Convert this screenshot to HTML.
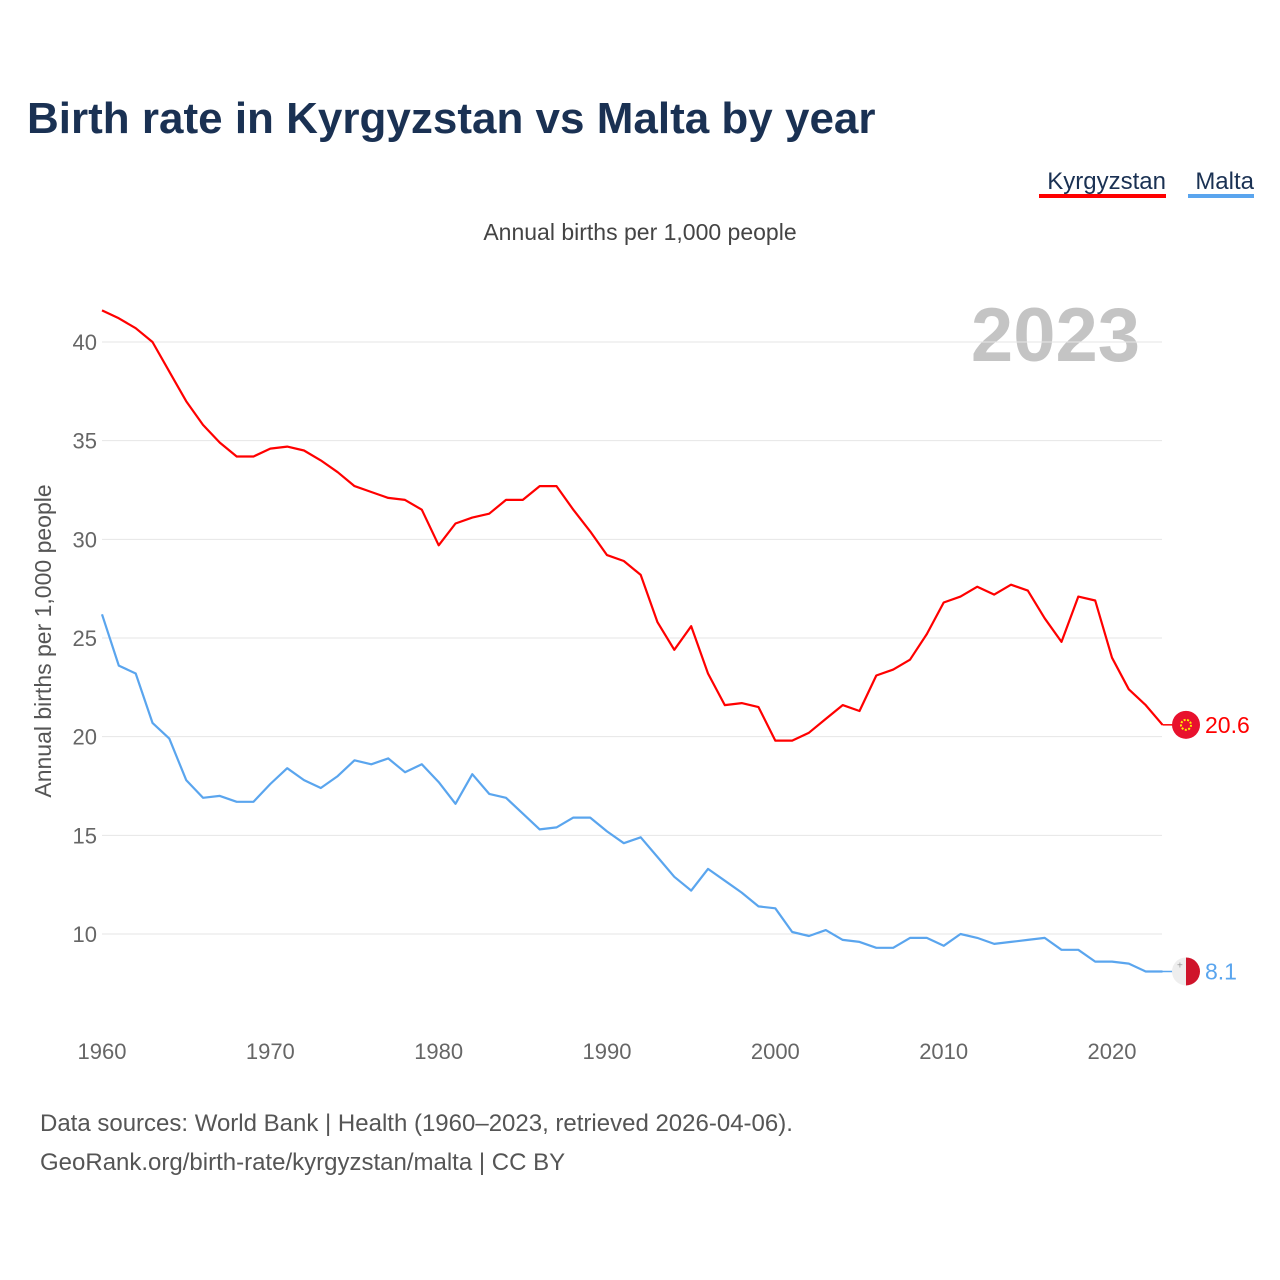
<!DOCTYPE html>
<html><head><meta charset="utf-8">
<style>
body{margin:0;background:#fff;width:1280px;height:1280px;overflow:hidden;font-family:"Liberation Sans",sans-serif;}
svg{display:block}
</style></head>
<body>
<svg id="chart" width="1280" height="1280">
<text x="27" y="133" font-size="44" font-weight="bold" fill="#1a3153">Birth rate in Kyrgyzstan vs Malta by year</text>
<g>
<text x="1166" y="189" font-size="24" fill="#1a3153" text-anchor="end">Kyrgyzstan</text>
<rect x="1039" y="194" width="127" height="4" fill="#ff0000"/>
</g>
<g>
<text x="1254" y="189" font-size="24" fill="#1a3153" text-anchor="end">Malta</text>
<rect x="1188" y="194" width="66" height="4" fill="#5aa5ee"/>
</g>
<text x="640" y="240" font-size="23" fill="#444" text-anchor="middle">Annual births per 1,000 people</text>
<text x="1140" y="361" font-size="76" font-weight="bold" fill="#c4c4c4" text-anchor="end">2023</text>
<text transform="translate(51,641) rotate(-90)" font-size="23" fill="#555" text-anchor="middle">Annual births per 1,000 people</text>
<g id="grid"></g><g id="series"></g>
<text x="40" y="1131" font-size="24" fill="#555">Data sources: World Bank | Health (1960–2023, retrieved 2026-04-06).</text>
<text x="40" y="1170" font-size="24" fill="#555">GeoRank.org/birth-rate/kyrgyzstan/malta | CC BY</text>
</svg>
<script>
const years=[];for(let y=1960;y<=2023;y++)years.push(y);
const kyrgyzstan=[41.6,41.2,40.7,40.0,38.5,37.0,35.8,34.9,34.2,34.2,34.6,34.7,34.5,34.0,33.4,32.7,32.4,32.1,32.0,31.5,29.7,30.8,31.1,31.3,32.0,32.0,32.7,32.7,31.5,30.4,29.2,28.9,28.2,25.8,24.4,25.6,23.2,21.6,21.7,21.5,19.8,19.8,20.2,20.9,21.6,21.3,23.1,23.4,23.9,25.2,26.8,27.1,27.6,27.2,27.7,27.4,26.0,24.8,27.1,26.9,24.0,22.4,21.6,20.6];
const malta=[26.2,23.6,23.2,20.7,19.9,17.8,16.9,17.0,16.7,16.7,17.6,18.4,17.8,17.4,18.0,18.8,18.6,18.9,18.2,18.6,17.7,16.6,18.1,17.1,16.9,16.1,15.3,15.4,15.9,15.9,15.2,14.6,14.9,13.9,12.9,12.2,13.3,12.7,12.1,11.4,11.3,10.1,9.9,10.2,9.7,9.6,9.3,9.3,9.8,9.8,9.4,10.0,9.8,9.5,9.6,9.7,9.8,9.2,9.2,8.6,8.6,8.5,8.1,8.1];
const yTicks=[10,15,20,25,30,35,40];
const xTicks=[1960,1970,1980,1990,2000,2010,2020];
const NS="http://www.w3.org/2000/svg";
const xS=v=>102+(v-1960)*(1010/60);
const yS=v=>934-(v-10)*(592/30);
function mk(t,a,p){const e=document.createElementNS(NS,t);for(const k in a)e.setAttribute(k,a[k]);p.appendChild(e);return e;}
const grid=document.getElementById('grid'),ser=document.getElementById('series');
yTicks.forEach(v=>{
 const l=mk('line',{x1:102,x2:1162,y1:yS(v),y2:yS(v),stroke:'#e6e6e6','stroke-width':1},grid);
 
 
 const t=mk('text',{x:97,y:yS(v)+8,'font-size':22,fill:'#666','text-anchor':'end'},grid);t.textContent=v;
 
 
});
xTicks.forEach(v=>{
 const t=mk('text',{x:xS(v),y:1059,'font-size':22,fill:'#666','text-anchor':'middle'},grid);t.textContent=v;
 
 
});
function line(data,color,name){
 const d=data.map((v,i)=>(i?'L':'M')+xS(years[i]).toFixed(1)+','+yS(v).toFixed(1)).join('');
 const p=mk('path',{d:d,fill:'none',stroke:color,'stroke-width':2.2,'stroke-linejoin':'round'},ser);
 
 
 const last=data[data.length-1],ly=yS(last);
 mk('line',{x1:xS(2023),x2:1174,y1:ly,y2:ly,stroke:color,'stroke-width':1.5},ser);
 const t=mk('text',{x:1205,y:ly+8,'font-size':23,fill:color},ser);t.textContent=last;
 
 
 return ly;
}
const ky=line(kyrgyzstan,'#ff0000','kyrgyzstan');
const my=line(malta,'#5aa5ee','malta');
const f1=mk('g',{},ser);


mk('circle',{cx:1186,cy:ky,r:14,fill:'#e8112d'},f1);
mk('circle',{cx:1186,cy:ky,r:5,fill:'none',stroke:'#ffef00','stroke-width':2,'stroke-dasharray':'2 1.5'},f1);
const f2=mk('g',{},ser);


mk('path',{d:`M1186,${my-14} A14,14 0 0 0 1186,${my+14}Z`,fill:'#eeeeee'},f2);
mk('path',{d:`M1186,${my-14} A14,14 0 0 1 1186,${my+14}Z`,fill:'#cf142b'},f2);
mk('text',{x:1177,y:my-3,'font-size':10,fill:'#999'},f2).textContent='+';
</script>
</body></html>
